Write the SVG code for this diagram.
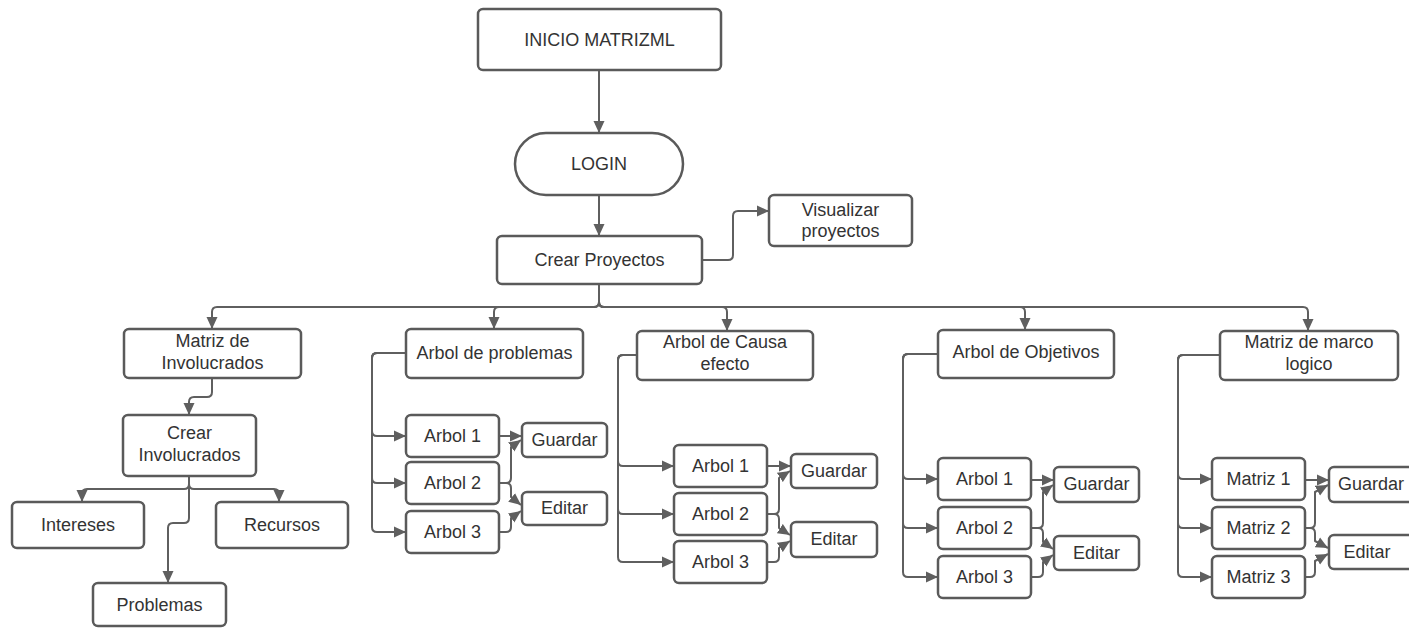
<svg xmlns="http://www.w3.org/2000/svg" width="1409" height="628" viewBox="0 0 1409 628">
  <style>
    .box { fill: #ffffff; stroke: #5a5a5a; stroke-width: 2.5; }
    .lbl { font-family: "Liberation Sans", Arial, sans-serif; font-size: 18px; fill: #333333; text-anchor: middle; }
    .wire { fill: none; stroke: #5f5f5f; stroke-width: 2; stroke-linejoin: round; marker-end: url(#arrow); }
    .wire-plain { fill: none; stroke: #5f5f5f; stroke-width: 2; }
  </style>
  <defs>
    <marker id="arrow" markerUnits="userSpaceOnUse" markerWidth="12" markerHeight="12" refX="12" refY="6" orient="auto">
      <path d="M0,0.5 L12,6 L0,11.5 Z" fill="#5f5f5f"/>
    </marker>
  </defs>
  <rect width="1409" height="628" fill="#ffffff"/>

  <!-- connectors -->
  <g id="connectors">
    <path class="wire" d="M599,70 V133"/>
    <path class="wire" d="M599,195 V236"/>
    <path class="wire" d="M702,260 H728 Q733,260 733,255 V216 Q733,211 738,211 H769"/>

    <!-- fan-out from Crear Proyectos -->
    <path class="wire" d="M599,284 V302 Q599,307 594,307 H217 Q212,307 212,312 V329"/>
    <path class="wire" d="M599,284 V302 Q599,307 594,307 H499 Q494,307 494,312 V329"/>
    <path class="wire" d="M599,284 V302 Q599,307 604,307 H722 Q727,307 727,312 V331"/>
    <path class="wire" d="M599,284 V302 Q599,307 604,307 H1020 Q1025,307 1025,312 V330"/>
    <path class="wire" d="M599,284 V302 Q599,307 604,307 H1303 Q1308,307 1308,312 V331"/>

    <!-- involucrados branch -->
    <path class="wire" d="M212,378 V392 Q212,397 207,397 H194 Q189,397 189,402 V415"/>
    <path class="wire" d="M189,476 V484 Q189,489 184,489 H87 Q82,489 82,494 V502"/>
    <path class="wire" d="M189,476 V484 Q189,489 194,489 H274 Q279,489 279,494 V502"/>
    <path class="wire" d="M189,476 V518 Q189,523 184,523 H173 Q168,523 168,528 V583"/>

    <!-- arbol de problemas -->
    <path class="wire" d="M406,353 H377 Q372,353 372,358 V431 Q372,436 377,436 H406"/>
    <path class="wire" d="M406,353 H377 Q372,353 372,358 V478 Q372,483 377,483 H406"/>
    <path class="wire" d="M406,353 H377 Q372,353 372,358 V527 Q372,532 377,532 H406"/>
    <path class="wire" d="M499,436 H522"/>
    <path class="wire" d="M499,483 H506 Q511,483 511,478 V447 L521,440"/>
    <path class="wire" d="M499,483 H506 Q511,483 511,488 V497 L521,505"/>
    <path class="wire" d="M499,532 H506 Q511,532 511,527 V518 L521,511"/>

    <!-- arbol de causa efecto -->
    <path class="wire" d="M637,355 H623 Q618,355 618,360 V461 Q618,466 623,466 H674"/>
    <path class="wire" d="M637,355 H623 Q618,355 618,360 V509 Q618,514 623,514 H674"/>
    <path class="wire" d="M637,355 H623 Q618,355 618,360 V557 Q618,562 623,562 H674"/>
    <path class="wire" d="M767,466 H791"/>
    <path class="wire" d="M767,514 H774 Q779,514 779,509 V478 L790,471"/>
    <path class="wire" d="M767,514 H774 Q779,514 779,519 V528 L790,535"/>
    <path class="wire" d="M767,562 H774 Q779,562 779,557 V548 L790,541"/>

    <!-- arbol de objetivos -->
    <path class="wire" d="M938,354 H908 Q903,354 903,359 V474 Q903,479 908,479 H938"/>
    <path class="wire" d="M938,354 H908 Q903,354 903,359 V523 Q903,528 908,528 H938"/>
    <path class="wire" d="M938,354 H908 Q903,354 903,359 V572 Q903,577 908,577 H938"/>
    <path class="wire" d="M1031,480 H1054"/>
    <path class="wire" d="M1031,528 H1038 Q1043,528 1043,523 V492 L1053,485"/>
    <path class="wire" d="M1031,528 H1038 Q1043,528 1043,533 V542 L1053,549"/>
    <path class="wire" d="M1031,577 H1038 Q1043,577 1043,572 V562 L1053,555"/>

    <!-- matriz de marco logico -->
    <path class="wire" d="M1220,355 H1183 Q1178,355 1178,360 V474 Q1178,479 1183,479 H1212"/>
    <path class="wire" d="M1220,355 H1183 Q1178,355 1178,360 V523 Q1178,528 1183,528 H1212"/>
    <path class="wire" d="M1220,355 H1183 Q1178,355 1178,360 V572 Q1178,577 1183,577 H1212"/>
    <path class="wire" d="M1305,480 H1329"/>
    <path class="wire" d="M1305,528 H1310 Q1315,528 1315,523 V492 L1328,485"/>
    <path class="wire" d="M1305,528 H1310 Q1315,528 1315,533 V541 L1328,548"/>
    <path class="wire" d="M1305,577 H1310 Q1315,577 1315,572 V561 L1328,554"/>
  </g>

  <!-- top flow -->
  <g id="inicio">
    <rect class="box" x="478" y="9" width="243" height="61" rx="5"/>
    <text class="lbl" x="599.5" y="46">INICIO MATRIZML</text>
  </g>
  <g id="login">
    <rect class="box" x="515" y="133" width="168" height="62" rx="31"/>
    <text class="lbl" x="599" y="170">LOGIN</text>
  </g>
  <g id="crear-proyectos">
    <rect class="box" x="497" y="236" width="205" height="48" rx="5"/>
    <text class="lbl" x="599.5" y="266">Crear Proyectos</text>
  </g>
  <g id="visualizar">
    <rect class="box" x="769" y="195" width="143" height="51" rx="5"/>
    <text class="lbl" x="840.5" y="216">Visualizar</text>
    <text class="lbl" x="840.5" y="237">proyectos</text>
  </g>

  <!-- matriz de involucrados branch -->
  <g id="matriz-involucrados">
    <rect class="box" x="124" y="329" width="177" height="49" rx="5"/>
    <text class="lbl" x="212.5" y="347">Matriz de</text>
    <text class="lbl" x="212.5" y="369">Involucrados</text>
  </g>
  <g id="crear-involucrados">
    <rect class="box" x="123" y="415" width="133" height="61" rx="5"/>
    <text class="lbl" x="189.5" y="439">Crear</text>
    <text class="lbl" x="189.5" y="461">Involucrados</text>
  </g>
  <g id="intereses">
    <rect class="box" x="12" y="502" width="132" height="46" rx="5"/>
    <text class="lbl" x="78" y="531">Intereses</text>
  </g>
  <g id="recursos">
    <rect class="box" x="216" y="502" width="132" height="46" rx="5"/>
    <text class="lbl" x="282" y="531">Recursos</text>
  </g>
  <g id="problemas">
    <rect class="box" x="93" y="583" width="133" height="43" rx="5"/>
    <text class="lbl" x="159.5" y="611">Problemas</text>
  </g>

  <!-- arbol de problemas branch -->
  <g id="arbol-problemas">
    <rect class="box" x="406" y="329" width="177" height="49" rx="5"/>
    <text class="lbl" x="494.5" y="359">Arbol de problemas</text>
  </g>
  <g id="ap-arbol1">
    <rect class="box" x="406" y="415" width="93" height="42" rx="5"/>
    <text class="lbl" x="452.5" y="442">Arbol 1</text>
  </g>
  <g id="ap-arbol2">
    <rect class="box" x="406" y="462" width="93" height="42" rx="5"/>
    <text class="lbl" x="452.5" y="489">Arbol 2</text>
  </g>
  <g id="ap-arbol3">
    <rect class="box" x="406" y="511" width="93" height="42" rx="5"/>
    <text class="lbl" x="452.5" y="538">Arbol 3</text>
  </g>
  <g id="ap-guardar">
    <rect class="box" x="522" y="423" width="85" height="34" rx="5"/>
    <text class="lbl" x="564.5" y="446">Guardar</text>
  </g>
  <g id="ap-editar">
    <rect class="box" x="522" y="492" width="85" height="33" rx="5"/>
    <text class="lbl" x="564.5" y="514">Editar</text>
  </g>

  <!-- arbol de causa efecto branch -->
  <g id="arbol-causa">
    <rect class="box" x="637" y="331" width="176" height="49" rx="5"/>
    <text class="lbl" x="725" y="348">Arbol de Causa</text>
    <text class="lbl" x="725" y="370">efecto</text>
  </g>
  <g id="ac-arbol1">
    <rect class="box" x="674" y="445" width="93" height="42" rx="5"/>
    <text class="lbl" x="720.5" y="472">Arbol 1</text>
  </g>
  <g id="ac-arbol2">
    <rect class="box" x="674" y="493" width="93" height="42" rx="5"/>
    <text class="lbl" x="720.5" y="520">Arbol 2</text>
  </g>
  <g id="ac-arbol3">
    <rect class="box" x="674" y="541" width="93" height="42" rx="5"/>
    <text class="lbl" x="720.5" y="568">Arbol 3</text>
  </g>
  <g id="ac-guardar">
    <rect class="box" x="791" y="454" width="86" height="34" rx="5"/>
    <text class="lbl" x="834" y="477">Guardar</text>
  </g>
  <g id="ac-editar">
    <rect class="box" x="791" y="522" width="86" height="35" rx="5"/>
    <text class="lbl" x="834" y="545">Editar</text>
  </g>

  <!-- arbol de objetivos branch -->
  <g id="arbol-objetivos">
    <rect class="box" x="938" y="330" width="176" height="48" rx="5"/>
    <text class="lbl" x="1026" y="358">Arbol de Objetivos</text>
  </g>
  <g id="ao-arbol1">
    <rect class="box" x="938" y="458" width="93" height="42" rx="5"/>
    <text class="lbl" x="984.5" y="485">Arbol 1</text>
  </g>
  <g id="ao-arbol2">
    <rect class="box" x="938" y="507" width="93" height="42" rx="5"/>
    <text class="lbl" x="984.5" y="534">Arbol 2</text>
  </g>
  <g id="ao-arbol3">
    <rect class="box" x="938" y="556" width="93" height="42" rx="5"/>
    <text class="lbl" x="984.5" y="583">Arbol 3</text>
  </g>
  <g id="ao-guardar">
    <rect class="box" x="1054" y="467" width="85" height="35" rx="5"/>
    <text class="lbl" x="1096.5" y="490">Guardar</text>
  </g>
  <g id="ao-editar">
    <rect class="box" x="1054" y="536" width="85" height="34" rx="5"/>
    <text class="lbl" x="1096.5" y="559">Editar</text>
  </g>

  <!-- matriz de marco logico branch -->
  <g id="marco-logico">
    <rect class="box" x="1220" y="331" width="178" height="49" rx="5"/>
    <text class="lbl" x="1309" y="348">Matriz de marco</text>
    <text class="lbl" x="1309" y="370">logico</text>
  </g>
  <g id="ml-matriz1">
    <rect class="box" x="1212" y="458" width="93" height="42" rx="5"/>
    <text class="lbl" x="1258.5" y="485">Matriz 1</text>
  </g>
  <g id="ml-matriz2">
    <rect class="box" x="1212" y="507" width="93" height="42" rx="5"/>
    <text class="lbl" x="1258.5" y="534">Matriz 2</text>
  </g>
  <g id="ml-matriz3">
    <rect class="box" x="1212" y="556" width="93" height="42" rx="5"/>
    <text class="lbl" x="1258.5" y="583">Matriz 3</text>
  </g>
  <g id="ml-guardar">
    <rect class="box" x="1329" y="467" width="86" height="35" rx="5"/>
    <text class="lbl" x="1371" y="490">Guardar</text>
  </g>
  <g id="ml-editar">
    <rect class="box" x="1329" y="535" width="86" height="34" rx="5"/>
    <text class="lbl" x="1367" y="558">Editar</text>
  </g>
</svg>
